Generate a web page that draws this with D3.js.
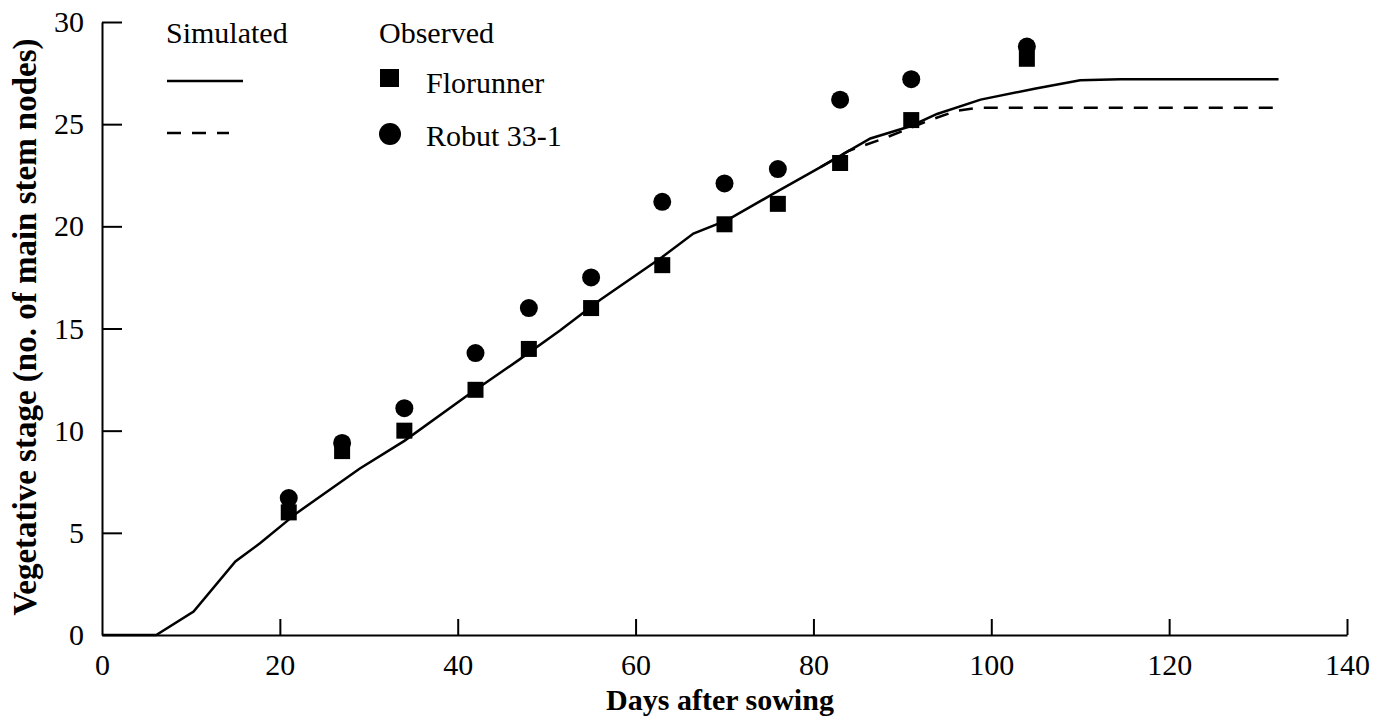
<!DOCTYPE html>
<html>
<head>
<meta charset="utf-8">
<script src="https://cdn.jsdelivr.net/npm/d3@7"></script>
<style>
  body { margin: 0; background: #fff; }
  .axis path, .axis line { stroke: #000; stroke-width: 2; }
</style>
</head>
<body>
<div id="chart"></div>
<script>
// observed days after sowing
var obsDays = [21, 27, 34, 42, 48, 55, 63, 70, 76, 83, 91, 104];
var florunner = [6.0, 9.0, 10.0, 12.0, 14.0, 16.0, 18.1, 20.1, 21.1, 23.1, 25.2, 28.2];
var robut = [6.7, 9.4, 11.1, 13.8, 16.0, 17.5, 21.2, 22.1, 22.8, 26.2, 27.2, 28.8];

// simulated curves
var simDays = [0, 6.1, 10.3, 15, 17.8, 22, 29, 34, 41, 47, 51.5, 56, 63, 66.5, 70.3, 75.5, 80.8, 86.4, 90.9, 93.9, 98.8, 105, 110, 114.5, 132.3];
var simFlorunner = [0, 0, 1.15, 3.6, 4.5, 6.0, 8.15, 9.5, 11.7, 13.5, 14.9, 16.4, 18.5, 19.65, 20.3, 21.6, 22.9, 24.3, 24.9, 25.5, 26.2, 26.75, 27.15, 27.2, 27.2];
var simRobutDays = [80.8, 84, 87.9, 93.1, 96.1, 98.4, 132.3];
var simRobut = [22.9, 23.7, 24.3, 25.2, 25.65, 25.8, 25.8];

var xTicks = [0, 20, 40, 60, 80, 100, 120, 140];
var yTicks = [0, 5, 10, 15, 20, 25, 30];

var FONT = "'Liberation Serif', 'Times New Roman', serif";
var W = 1380, H = 726;
var svg = d3.select("#chart").append("svg").attr("width", W).attr("height", H)
    .style("font-family", FONT);

var x = d3.scaleLinear().domain([0, 140]).range([102, 1347]);
var y = d3.scaleLinear().domain([0, 30]).range([635, 22]);

var gx = svg.append("g")
    .attr("class", "axis")
    .attr("transform", "translate(0,635)")
    .call(d3.axisBottom(x).tickValues(xTicks).tickSizeInner(-16).tickSizeOuter(0).tickPadding(19));
gx.selectAll(".tick line").filter(function(d) { return d === 0; }).remove();

var gy = svg.append("g")
    .attr("class", "axis")
    .attr("transform", "translate(102,0)")
    .call(d3.axisLeft(y).tickValues(yTicks).tickSizeInner(-20).tickSizeOuter(0).tickPadding(18));
gy.selectAll(".tick line").filter(function(d) { return d === 0; }).remove();

svg.selectAll(".axis")
    .attr("font-family", FONT)
    .attr("font-size", 30);
svg.selectAll(".axis text")
    .style("font-family", FONT)
    .style("font-size", "30px")
    .attr("fill", "#000");
svg.selectAll(".axis .domain").attr("fill", "none");

var line = d3.line()
    .x(function(d) { return x(d[0]); })
    .y(function(d) { return y(d[1]); });

svg.append("path")
    .datum(d3.zip(simRobutDays, simRobut))
    .attr("d", line)
    .attr("fill", "none")
    .attr("stroke", "#000")
    .attr("stroke-width", 2.5)
    .attr("stroke-dasharray", "14,11");

svg.append("path")
    .datum(d3.zip(simDays, simFlorunner))
    .attr("d", line)
    .attr("fill", "none")
    .attr("stroke", "#000")
    .attr("stroke-width", 2.5);

var sq = 16;
svg.append("g").selectAll("rect")
    .data(d3.zip(obsDays, florunner))
    .enter().append("rect")
      .attr("x", function(d) { return x(d[0]) - sq / 2; })
      .attr("y", function(d) { return y(d[1]) - sq / 2; })
      .attr("width", sq)
      .attr("height", sq)
      .attr("fill", "#000");

svg.append("g").selectAll("circle")
    .data(d3.zip(obsDays, robut))
    .enter().append("circle")
      .attr("cx", function(d) { return x(d[0]); })
      .attr("cy", function(d) { return y(d[1]); })
      .attr("r", 9)
      .attr("fill", "#000");

// legend
var leg = svg.append("g").attr("font-size", 30).attr("fill", "#000");
leg.append("text").attr("x", 166).attr("y", 43).text("Simulated");
leg.append("line").attr("x1", 167).attr("x2", 243).attr("y1", 81).attr("y2", 81)
    .attr("stroke", "#000").attr("stroke-width", 2.5);
leg.append("line").attr("x1", 167).attr("x2", 229).attr("y1", 133).attr("y2", 133)
    .attr("stroke", "#000").attr("stroke-width", 2.5).attr("stroke-dasharray", "14,11");
leg.append("text").attr("x", 379).attr("y", 43).text("Observed");
leg.append("rect").attr("x", 380).attr("y", 69).attr("width", 19).attr("height", 18).attr("fill", "#000");
leg.append("text").attr("x", 426).attr("y", 93).text("Florunner");
leg.append("circle").attr("cx", 390).attr("cy", 134).attr("r", 11).attr("fill", "#000");
leg.append("text").attr("x", 426).attr("y", 146).text("Robut 33-1");

// axis titles
svg.append("text")
    .attr("x", 720).attr("y", 710)
    .attr("text-anchor", "middle")
    .attr("font-size", 30).attr("font-weight", "bold")
    .text("Days after sowing");

svg.append("text")
    .attr("transform", "translate(36,327) rotate(-90)")
    .attr("text-anchor", "middle")
    .attr("font-size", 33).attr("font-weight", "bold")
    .text("Vegetative stage (no. of main stem nodes)");
</script>
</body>
</html>
